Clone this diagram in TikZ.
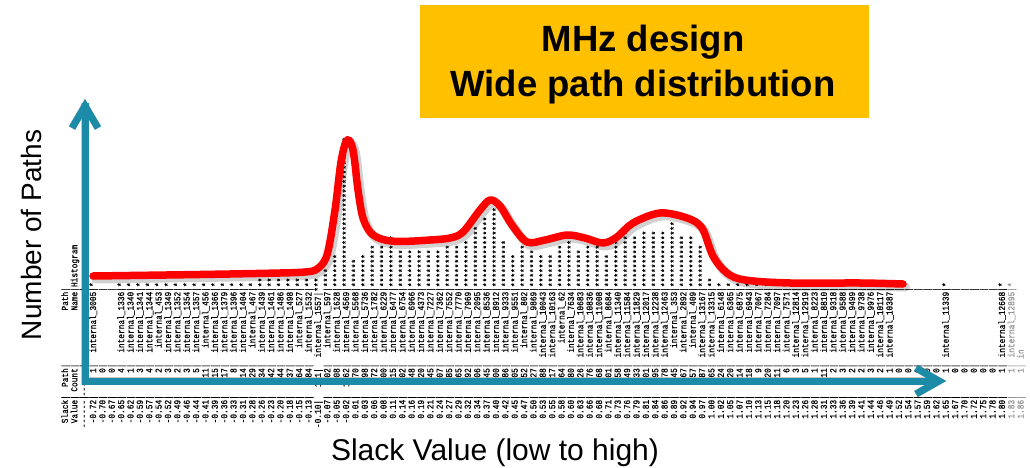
\documentclass[tikz,border=0pt]{standalone}
\usepackage{fontspec}
\setmainfont{Liberation Sans}
\newfontfamily\monofont[FakeStretch=0.85,FakeBold=0.6]{Liberation Mono}
\definecolor{axisteal}{RGB}{28,139,168}
\definecolor{titleorange}{RGB}{255,192,0}
\definecolor{curvered}{RGB}{255,0,0}
\definecolor{fadedtext}{RGB}{150,150,150}

% a run of #1 asterisks
\newcommand\starrow[1]{\ifnum#1>0 *\expandafter\starrow\expandafter{\the\numexpr#1-1\relax}\fi}

\begin{document}
\begin{tikzpicture}[x=1pt,y=-1pt,
  cell/.style={rotate=90, inner sep=0pt, outer sep=0pt,
    font=\monofont\fontsize{9.2}{10}\selectfont},
  fieldend/.style={cell, anchor=mid east},
  fieldstart/.style={cell, anchor=mid west},
  curveshadow/.style={draw=black, opacity=.18, line width=9pt,
    line cap=round, line join=round, shift={(2.5,3)}},
  curvemain/.style={draw=curvered, line width=7.5pt,
    line cap=round, line join=round},
  axisshadow/.style={draw=black, opacity=.22, line width=7.5pt,
    miter limit=10, shift={(2.5,3)}},
  axismain/.style={draw=axisteal, line width=7pt, miter limit=10},
  titlebox/.style={fill=titleorange, inner sep=0pt,
    minimum width=449pt, minimum height=113pt},
  titletext/.style={font=\bfseries\fontsize{36.5}{44}\selectfont, anchor=base, inner sep=0pt},
  axislabel/.style={font=\fontsize{28}{34}\selectfont, anchor=base, inner sep=0pt}]

\useasboundingbox (0,0) rectangle (1030,468);
\fill[white] (0,0) rectangle (1030,468);

% field ends along each text line (image y of the end of the '|')
\def\slackend{395.15}
\def\countend{363.5}
\def\nameend{287.05}

% ---- table header, one text line per column ----
\node[fieldend] (hA1) at (65.3,\slackend) {Slack|};
\node[fieldend] (hA2) at (65.3,\countend) {Path|};
\node[fieldend] (hA3) at (65.3,\nameend) {Path|};
\node[fieldend] (hB1) at (74.7,\slackend) {Value|};
\node[fieldend] (hB2) at (74.7,\countend) {Count|};
\node[fieldend] (hB3) at (74.7,\nameend) {Name|};
\node[fieldstart] (hB4) at (74.7,\nameend) {Histogram};
\node[fieldend] (hC1) at (84.0,\slackend) {------|};
\node[fieldend] (hC2) at (84.0,\countend) {------|};
\node[fieldend] (hC3) at (84.0,\nameend) {---------------|};
\node[fieldstart] (hC4) at (84.0,\nameend) {-----------------------------};

% ---- table rows: slack / count / path name / stars / shift ----
\foreach \s/\c/\n/\h/\d [count=\i from 0] in {
 -0.72/1/3005/1/0, -0.70/0/0/0/0, -0.67/0/0/0/0, -0.65/4/1336/1/0,
 -0.62/1/1340/1/0, -0.59/3/1341/1/0, -0.57/4/1344/1/0, -0.54/2/453/1/0,
 -0.52/3/1349/1/0, -0.49/2/1352/1/0, -0.46/3/1354/1/0, -0.44/5/1357/1/0,
 -0.41/11/456/1/0, -0.39/15/1366/1/0, -0.36/17/1379/1/0, -0.33/8/1396/1/0,
 -0.31/14/1404/1/0, -0.28/29/467/1/0, -0.26/34/1439/2/0, -0.23/42/1461/2/0,
 -0.20/44/1486/2/0, -0.18/37/1498/2/0, -0.15/64/527/2/0, -0.13/84/1532/2/0,
 -0.10/151/1557/3/1, -0.07/202/597/4/0, -0.05/308/1628/7/0, -0.02/1262/4569/32/0,
 0.01/270/5568/6/0, 0.03/298/5736/7/0, 0.06/372/1782/9/0, 0.08/300/6229/9/0,
 0.11/415/6477/11/0, 0.14/302/6754/8/0, 0.16/348/6966/8/0, 0.19/320/4373/8/0,
 0.21/345/7227/8/0, 0.24/307/7362/8/0, 0.27/385/7552/9/0, 0.29/365/7770/9/0,
 0.32/392/7969/10/0, 0.34/506/2095/13/0, 0.37/545/8536/15/0, 0.40/600/8912/17/0,
 0.42/386/9333/10/0, 0.45/305/9551/7/0, 0.47/352/802/9/0, 0.50/327/9869/8/0,
 0.53/288/10043/7/0, 0.55/317/10163/7/0, 0.58/364/62/9/0, 0.60/380/7634/10/0,
 0.63/326/10683/8/0, 0.66/376/10836/9/0, 0.68/368/11008/9/0, 0.71/301/8684/7/0,
 0.73/358/11340/10/0, 0.76/449/11584/12/0, 0.79/433/11829/11/0, 0.81/501/12017/12/0,
 0.84/495/12238/12/0, 0.86/478/12463/12/0, 0.89/545/353/14/0, 0.92/467/2892/11/0,
 0.94/457/409/11/0, 0.97/387/13167/9/0, 1.00/65/13315/2/0, 1.02/24/6148/1/0,
 1.05/20/6365/1/0, 1.07/14/6875/1/0, 1.10/18/6943/1/0, 1.13/9/7067/1/0,
 1.15/20/7284/1/0, 1.18/11/7097/1/0, 1.20/6/7571/1/0, 1.23/3/12814/1/0,
 1.26/5/12919/1/0, 1.28/1/8223/1/0, 1.31/11/8810/1/0, 1.33/2/9318/1/0,
 1.36/3/9588/1/0, 1.39/2/9499/1/0, 1.41/2/9738/1/0, 1.44/3/9976/1/0,
 1.46/2/10117/1/0, 1.49/1/10387/1/0, 1.52/0/0/0/0, 1.54/0/0/0/0,
 1.57/0/0/0/0, 1.59/0/0/0/0, 1.62/0/0/0/0, 1.65/1/11339/1/0,
 1.67/0/0/0/0, 1.70/0/0/0/0, 1.72/0/0/0/0, 1.75/0/0/0/0,
 1.78/0/0/0/0, 1.80/1/12668/1/0}{
  \pgfmathsetmacro\X{93.4+9.37*\i}
  \pgfmathsetmacro\off{4.7*\d}
  \node[fieldend] (sl\i) at (\X,\slackend+\off) {\s|};
  \node[fieldend] (ct\i) at (\X,\countend+\off) {\c|};
  \node[fieldend] (nm\i) at (\X,\nameend+\off) {\ifnum\n>0 internal\_\n\fi|};
  \ifnum\h>0 \node[fieldstart] (hs\i) at (\X,\nameend+\off) {\starrow{\h}};\fi
}
% last two rows, greyed out
\begin{scope}[every node/.append style={text=fadedtext}]
  \node[fieldend] (sl98) at (1011.7,\slackend) {1.83|};
  \node[fieldend] (ct98) at (1011.7,\countend) {1|};
  \node[fieldend] (nm98) at (1011.7,\nameend) {internal\_12895|};
  \node[fieldstart] (hs98) at (1011.7,\nameend) {*};
  \node[fieldend] (sl99) at (1021.0,\slackend) {1.86|};
  \node[fieldend] (ct99) at (1021.0,\countend) {1|};
  \node[fieldstart] (nm99) at (1021.0,358.8) {in};
\end{scope}

% ---- distribution curve ----
\foreach \st in {curveshadow,curvemain}
  \draw[\st] plot[smooth,tension=.55] coordinates {
    (93,276) (200,274.5) (280,273) (305,272) (317,269) (327,255) (335,210)
    (341,162) (347,140) (353,150) (358,190) (363,218) (371,233) (383,239.5)
    (400,241.5) (430,240) (450,238) (463,232) (480,210) (490,200) (500,206)
    (512,225) (527,242) (545,240) (567,235) (585,238) (603,243) (617,237)
    (633,223) (660,213) (687,218) (702,228) (713,256) (727,273) (745,280)
    (790,283) (860,283) (903,284)};

% ---- axes ----
\coordinate (origin) at (85,381);
\coordinate (ytip) at (85,106);
\coordinate (xtip) at (939,381);
\coordinate (yarmL) at (72,128);
\coordinate (yarmR) at (98,128);
\coordinate (xarmU) at (916,368);
\coordinate (xarmD) at (916,394);
\foreach \st in {axisshadow,axismain}{
  \draw[\st] ([yshift=3pt]ytip) -- (origin) -- ([xshift=-3pt]xtip);
  \draw[\st] (yarmL) -- (ytip) -- (yarmR);
  \draw[\st] (xarmU) -- (xtip) -- (xarmD);
}

% ---- labels ----
\node[axislabel, rotate=90] (ylabel) at (41.7,235) {Number of Paths};
\node[axislabel, font=\fontsize{30}{36}\selectfont] (xlabel) at (495,460) {Slack Value (low to high)};

% ---- title ----
\node[titlebox] (box) at (644.5,61.5) {};
\node[titletext] (title1) at (643,52) {MHz design};
\node[titletext] (title2) at (643,97) {Wide path distribution};
\end{tikzpicture}
\end{document}
